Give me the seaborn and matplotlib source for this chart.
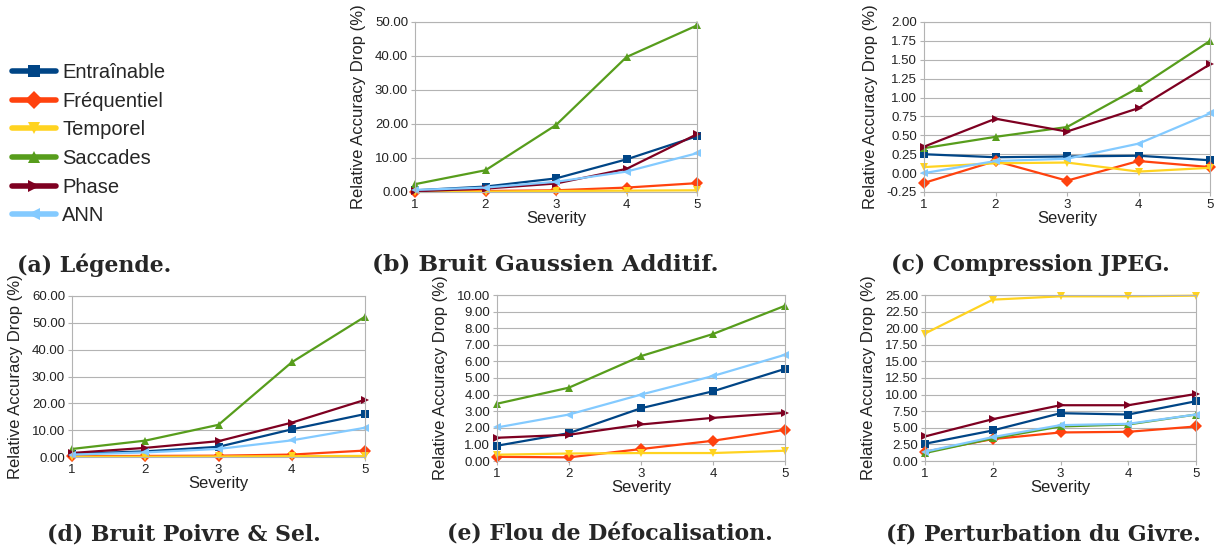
import numpy as np
import pandas as pd
import matplotlib.pyplot as plt
import seaborn as sns

# Données
severity = [1, 2, 3, 4, 5]
methods = ['Entraînable', 'Fréquentiel', 'Temporel', 'Saccades', 'Phase', 'ANN']
colors = ['#004586', '#ff420e', '#ffd320', '#579d1c', '#7e0021', '#83caff']
markers = ['s', 'D', 'v', '^', '>', '<']

gauss_entr = [0.5, 1.6, 4.0, 9.6, 16.4]
gauss_freq = [0.1, 0.3, 0.5, 1.3, 2.6]
gauss_temp = [0.0, 0.1, 0.3, 0.4, 0.5]
gauss_sacc = [2.3, 6.4, 19.7, 39.7, 49.0]
gauss_phase = [0.2, 1.0, 2.5, 6.8, 17.0]
gauss_ann = [0.6, 1.3, 3.0, 6.0, 11.4]

jpeg_entr = [0.25, 0.21, 0.22, 0.23, 0.17]
jpeg_freq = [-0.13, 0.16, -0.10, 0.16, 0.08]
jpeg_temp = [0.08, 0.13, 0.14, 0.02, 0.07]
jpeg_sacc = [0.33, 0.48, 0.61, 1.13, 1.75]
jpeg_phase = [0.35, 0.72, 0.55, 0.86, 1.44]
jpeg_ann = [0.00, 0.16, 0.19, 0.39, 0.79]

sp_entr = [1.2, 2.1, 3.8, 10.3, 16.0]
sp_freq = [0.3, 0.4, 0.5, 0.9, 2.4]
sp_temp = [0.1, 0.1, 0.2, 0.3, 0.4]
sp_sacc = [3.0, 6.1, 12.0, 35.3, 52.3]
sp_phase = [1.5, 3.4, 5.9, 12.8, 21.3]
sp_ann = [0.9, 1.7, 3.0, 6.2, 10.9]

defoc_entr = [0.92, 1.68, 3.18, 4.20, 5.55]
defoc_freq = [0.25, 0.22, 0.72, 1.22, 1.88]
defoc_temp = [0.38, 0.45, 0.48, 0.48, 0.62]
defoc_sacc = [3.45, 4.42, 6.32, 7.65, 9.35]
defoc_phase = [1.40, 1.58, 2.20, 2.60, 2.90]
defoc_ann = [2.02, 2.80, 4.00, 5.12, 6.40]

frost_entr = [2.6, 4.6, 7.2, 7.0, 9.0]
frost_freq = [1.4, 3.3, 4.3, 4.4, 5.2]
frost_temp = [19.2, 24.3, 24.8, 24.8, 24.9]
frost_sacc = [1.2, 3.4, 5.2, 5.5, 7.0]
frost_phase = [3.7, 6.3, 8.4, 8.4, 10.1]
frost_ann = [1.4, 3.6, 5.4, 5.6, 7.0]

panels = [
    ('(b) Bruit Gaussien Additif.', [gauss_entr, gauss_freq, gauss_temp, gauss_sacc, gauss_phase, gauss_ann],
     (0, 50), 10),
    ('(c) Compression JPEG.', [jpeg_entr, jpeg_freq, jpeg_temp, jpeg_sacc, jpeg_phase, jpeg_ann],
     (-0.25, 2.0), 0.25),
    ('(d) Bruit Poivre & Sel.', [sp_entr, sp_freq, sp_temp, sp_sacc, sp_phase, sp_ann],
     (0, 60), 10),
    ('(e) Flou de Défocalisation.', [defoc_entr, defoc_freq, defoc_temp, defoc_sacc, defoc_phase, defoc_ann],
     (0, 10), 1),
    ('(f) Perturbation du Givre.', [frost_entr, frost_freq, frost_temp, frost_sacc, frost_phase, frost_ann],
     (0, 25), 2.5),
]

# positions en pixels : gauche, droite, haut, bas
boxes = [(415, 697, 22, 192), (924, 1210, 22, 192),
         (72, 365, 296, 457), (497, 785, 295, 461), (925, 1196, 295, 461)]
captions_xy = [(545, 265), (1030, 265), (184, 535), (610, 535), (1043, 535)]
caption_sizes = [16.8, 15.8, 15.8, 15.8, 15.8]

W, H = 1217, 550
sns.set_theme(style='white')
plt.rcParams['font.family'] = ['Liberation Sans', 'DejaVu Sans']

fig = plt.figure(figsize=(W / 100, H / 100), dpi=100)
pal = dict(zip(methods, colors))
mk = dict(zip(methods, markers))

for (title, series, ylim, step), (l, r, t, b), (cx, cy), fs in zip(panels, boxes, captions_xy, caption_sizes):
    ax = fig.add_axes([l / W, (H - b) / H, (r - l) / W, (b - t) / H])
    df = pd.DataFrame({
        'Severity': severity * len(methods),
        'val': np.concatenate(series),
        'method': np.repeat(methods, len(severity)),
    })
    sns.lineplot(data=df, x='Severity', y='val', hue='method', style='method',
                 palette=pal, markers=mk, dashes=False, linewidth=1.6,
                 markersize=6, markeredgewidth=0, legend=False, ax=ax, clip_on=False)
    ax.set_xlim(1, 5)
    ax.set_ylim(*ylim)
    ax.set_xticks(severity)
    ax.set_yticks(np.arange(ylim[0], ylim[1] + step / 2, step))
    ax.yaxis.set_major_formatter(plt.FormatStrFormatter('%.2f'))
    ax.grid(axis='y', color='#b3b3b3', linewidth=0.8)
    ax.set_axisbelow(True)
    for s in ax.spines.values():
        s.set_color('#b3b3b3')
        s.set_linewidth(0.8)
    ax.tick_params(axis='both', labelsize=9.5, colors='#b3b3b3', labelcolor='#222222',
                   length=3, width=0.8, pad=2, left=True, bottom=True)
    ax.set_xlabel('Severity', fontsize=12, labelpad=0, color='#222222')
    ax.set_ylabel('Relative Accuracy Drop (%)', fontsize=12, labelpad=6, color='#222222')
    fig.text(cx / W, 1 - cy / H, title, ha='center', va='center', fontsize=fs,
             fontweight='bold', family=['DejaVu Serif'])

# (a) légende
leg_ax = fig.add_axes([0, (H - 240) / H, 220 / W, 200 / H])
leg_ax.axis('off')
handles = [plt.Line2D([], [], color=c, marker=m, linewidth=4, markersize=9, markeredgewidth=0)
           for c, m in zip(colors, markers)]
leg_ax.legend(handles, methods, loc='upper left', bbox_to_anchor=(12 / 220, 0.885), frameon=False,
              fontsize=14.5, handlelength=2.2, handletextpad=0.3, labelspacing=0.48, borderaxespad=0,
              borderpad=0)
fig.text(94 / W, 1 - 265 / H, '(a) Légende.', ha='center', va='center', fontsize=15.8,
         fontweight='bold', family=['DejaVu Serif'])

fig.savefig('out.png', dpi=100)
